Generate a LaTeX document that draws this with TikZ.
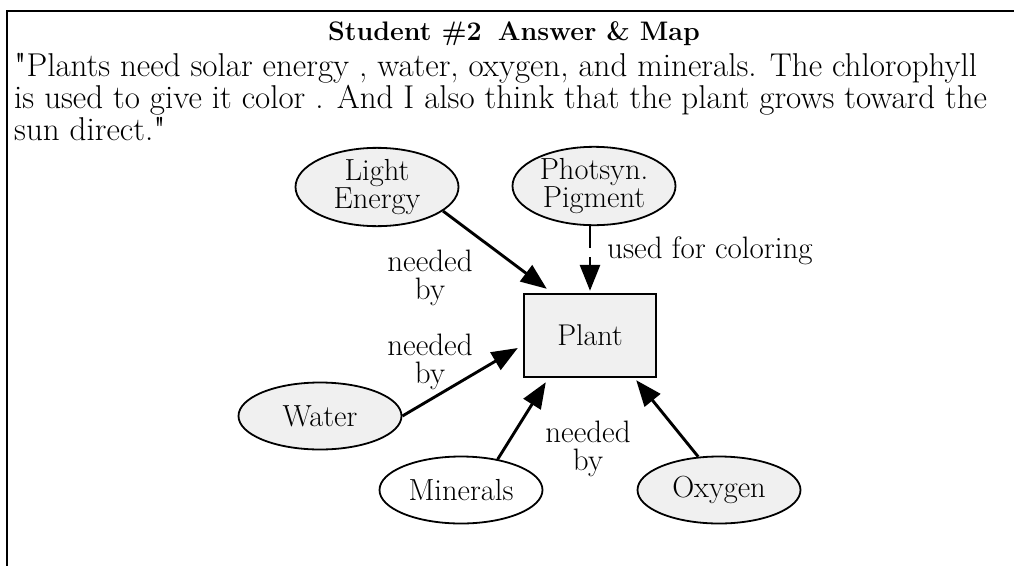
\documentclass[tikz,border=0pt]{standalone}
\usetikzlibrary{shapes.geometric,arrows.meta,calc}
\definecolor{nodefill}{RGB}{240,240,240}
\font\straightq="[lmroman10-regular]" at 33pt
\newcommand{\sq}{{\straightq"}}
\tikzset{
  concept/.style={ellipse,draw,line width=1.8pt,fill=nodefill,minimum width=163pt,minimum height=67pt,inner sep=0pt,align=center,font=\fontsize{30.5}{26}\selectfont},
  plainconcept/.style={concept,fill=white},
  plantbox/.style={rectangle,draw,line width=2.4pt,fill=nodefill,minimum width=132pt,minimum height=83pt,inner sep=0pt,font=\fontsize{30}{26}\selectfont},
  linklabel/.style={align=center,inner sep=0pt,font=\fontsize{31}{28}\selectfont},
  textline/.style={anchor=base west,inner sep=0pt,font=\fontsize{33}{31}\selectfont},
  link/.style={line width=2.9pt,-{Triangle[length=26pt,width=20pt]}},
  dashlink/.style={link,dash pattern=on 22pt off 9pt}
}
\begin{document}
\begin{tikzpicture}[x=1pt,y=-1pt]
\useasboundingbox (0,0) rectangle (1014,565);
\draw[line width=2.2pt] (1014,11) -- (7,11) -- (7,566);

\node[anchor=base,inner sep=0pt,font=\fontsize{26.8}{31}\selectfont\bfseries] (title) at (514,40) {Student \#2\hspace{0.6em}Answer \& Map};
\node[textline] (l1) at (14,76) {\sq Plants need solar energy , water, oxygen, and minerals. The chlorophyll};
\node[textline] (l2) at (14,108) {is used to give it color . And I also think that the plant grows toward the};
\node[textline] (l3) at (14,140) {sun direct.\sq};

\node[concept] (le) at (377,187) {Light\\Energy};
\node[concept] (ps) at (594,186) {Photsyn.\\Pigment};
\node[plantbox] (plant) at (590,335.5) {Plant};
\node[concept] (water) at (320,416) {Water};
\node[plainconcept] (min) at (461,490) {Minerals};
\node[concept] (oxy) at (719,490) {Oxygen};

\coordinate (t1) at ([shift={(24,-4)}]plant.north west);
\coordinate (t2) at ([shift={(0,-2)}]plant.north);
\coordinate (t3) at ([shift={(-5,12.5)}]plant.west);
\coordinate (t4) at ([shift={(23,4)}]plant.south west);
\coordinate (t5) at ([shift={(-21,2)}]plant.south east);

\draw[link] (le.-20) -- (t1);
\draw[dashlink] (ps.south -| t2) -- (t2);
\draw[link] (water.east) -- (t3);
\draw[link] (min.40) -- (t4);
\draw[link] (oxy.122) -- (t5);

\node[linklabel] (lab1) at (430,278) {needed\\by};
\node[anchor=base west,inner sep=0pt,font=\fontsize{31}{29}\selectfont] (lab2) at (607,258) {used for coloring};
\node[linklabel] (lab3) at (430,362) {needed\\by};
\node[linklabel] (lab4) at (588,449) {needed\\by};
\end{tikzpicture}
\end{document}
